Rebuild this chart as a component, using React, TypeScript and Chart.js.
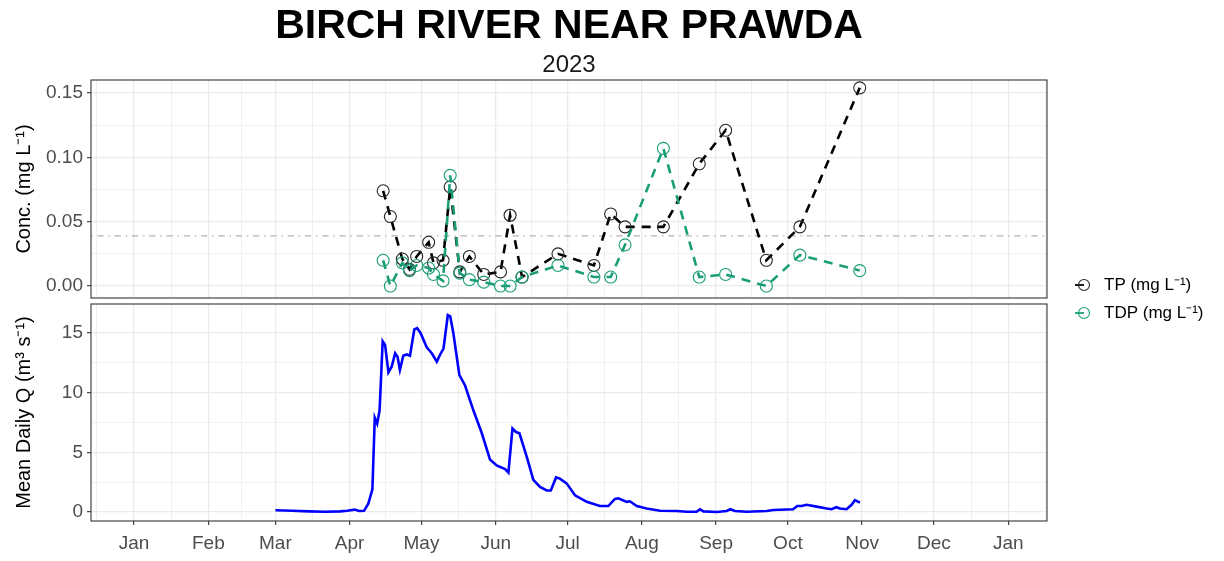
import React, { useEffect, useRef } from 'react';
import { Chart, registerables } from 'chart.js';

Chart.register(...registerables);

const FONT = "'Liberation Sans', Arial, Helvetica, sans-serif";

// x axis: days since 1 Jan 2023
const monthDays = [0, 31, 59, 90, 120, 151, 181, 212, 243, 273, 304, 334, 365];
const monthLabels = ['Jan', 'Feb', 'Mar', 'Apr', 'May', 'Jun', 'Jul', 'Aug', 'Sep', 'Oct', 'Nov', 'Dec', 'Jan'];
const xMin = -18;
const xMax = 381.2;

// water quality samples
const sampleDays = [104, 107, 112, 115, 118, 123, 125, 129, 132, 136, 140, 146, 153, 157, 162, 177, 192, 199, 205, 221, 236, 247, 264, 278, 303];
const tpValues = [0.074, 0.054, 0.021, 0.013, 0.023, 0.034, 0.018, 0.020, 0.077, 0.011, 0.023, 0.009, 0.011, 0.055, 0.007, 0.025, 0.016, 0.056, 0.046, 0.046, 0.095, 0.121, 0.020, 0.046, 0.154];
const tdpValues = [0.020, 0.000, 0.018, 0.012, 0.016, 0.014, 0.009, 0.004, 0.086, 0.010, 0.005, 0.003, 0.000, 0.000, 0.007, 0.016, 0.007, 0.007, 0.032, 0.107, 0.007, 0.009, 0.000, 0.024, 0.012];
const guideline = 0.039;

// mean daily discharge
const qDays = [59, 66, 73, 80, 86, 89, 92, 94, 96, 97.8, 99.5, 100.5, 101.5, 102.5, 103.8, 104.8, 106.2, 107.6, 109, 110, 111, 112.4, 113.8, 115.2, 117, 118.2, 119.6, 122.2, 124.3, 126.4, 127.8, 129.2, 131, 132, 133.3, 135.8, 138.2, 141.7, 145.2, 148.6, 151.4, 154.9, 156.3, 158, 159.5, 160.9, 164, 166.7, 169.5, 172.3, 174, 176.2, 177.8, 180.6, 184.1, 189, 194.5, 198, 200.8, 202.2, 205.7, 207, 209.9, 214, 219.6, 226.6, 230.7, 234.9, 236.3, 237.7, 243.3, 247.4, 249, 250.9, 255.8, 264.1, 266.9, 275.2, 276.9, 278.7, 280.8, 285, 289.2, 291.2, 293.3, 294.7, 297.5, 299.6, 301, 303.1];
const qValues = [0.15, 0.1, 0.05, 0.02, 0.05, 0.1, 0.2, 0.08, 0.1, 0.7, 1.9, 7.9, 7.4, 8.5, 14.3, 14.0, 11.7, 12.2, 13.3, 13.0, 11.9, 13.1, 13.2, 13.1, 15.3, 15.4, 15.0, 13.8, 13.3, 12.6, 13.2, 13.7, 16.5, 16.4, 15.0, 11.5, 10.6, 8.5, 6.6, 4.4, 3.9, 3.6, 3.3, 7.0, 6.7, 6.6, 4.6, 2.7, 2.1, 1.8, 1.8, 2.9, 2.8, 2.4, 1.4, 0.85, 0.5, 0.5, 1.1, 1.15, 0.85, 0.9, 0.5, 0.3, 0.1, 0.08, 0.02, 0.02, 0.23, 0.05, 0.0, 0.08, 0.23, 0.08, 0.02, 0.08, 0.17, 0.23, 0.5, 0.5, 0.6, 0.45, 0.3, 0.23, 0.4, 0.3, 0.23, 0.6, 1.0, 0.78];

const concTicks = [0, 0.05, 0.1, 0.15];
const concMin = -0.0093;
const concMax = 0.1601;
const qTicks = [0, 5, 10, 15];
const qMin = -0.754;
const qMax = 17.43;

type T = { value: number; major: boolean };

function withMinor(majors: number[], lo: number, hi: number): T[] {
  const step = majors[1] - majors[0];
  const ext = [majors[0] - step, ...majors, majors[majors.length - 1] + step];
  const out: T[] = majors.filter(v => v >= lo && v <= hi).map(v => ({ value: v, major: true }));
  for (let i = 0; i < ext.length - 1; i++) {
    const m = (ext[i] + ext[i + 1]) / 2;
    if (m >= lo && m <= hi) out.push({ value: m, major: false });
  }
  return out.sort((a, b) => a.value - b.value);
}

const isMajor = (c: any) => !!(c && c.tick && c.tick.major);

const gridOpts = (drawTicks: boolean) => ({
  drawTicks,
  tickLength: 4,
  color: '#ebebeb',
  lineWidth: (c: any) => (isMajor(c) ? 1.3 : 0.7),
  tickColor: (c: any) => (isMajor(c) ? '#333333' : 'rgba(0,0,0,0)'),
  tickWidth: 1.1,
});

const panelBorder = {
  id: 'panelBorder',
  afterDatasetsDraw(chart: any) {
    const { ctx, chartArea: a } = chart;
    ctx.save();
    ctx.strokeStyle = '#333333';
    ctx.lineWidth = 1.1;
    ctx.strokeRect(a.left, a.top, a.right - a.left, a.bottom - a.top);
    ctx.restore();
  },
};

const sideLegend = {
  id: 'sideLegend',
  afterDraw(chart: any) {
    const { ctx, chartArea: a } = chart;
    const items = chart.data.datasets.filter((d: any) => d.inLegend);
    ctx.save();
    items.forEach((d: any, i: number) => {
      const cy = a.bottom - 13 + i * 28;
      const cx = a.right + 37;
      ctx.strokeStyle = d.borderColor;
      ctx.lineWidth = 1.8;
      ctx.beginPath();
      ctx.moveTo(cx - 9, cy);
      ctx.lineTo(cx, cy);
      ctx.stroke();
      ctx.strokeStyle = d.pointBorderColor;
      ctx.lineWidth = 1.1;
      ctx.beginPath();
      ctx.arc(cx, cy, 5.5, 0, Math.PI * 2);
      ctx.stroke();
      ctx.fillStyle = '#000000';
      ctx.font = `17px ${FONT}`;
      ctx.textBaseline = 'middle';
      ctx.textAlign = 'left';
      ctx.fillText(d.label, cx + 20, cy);
    });
    ctx.restore();
  },
};

export default function App() {
  const topRef = useRef<HTMLCanvasElement>(null);
  const botRef = useRef<HTMLCanvasElement>(null);

  useEffect(() => {
    Chart.defaults.font.family = FONT;
    const xTicks = withMinor(monthDays, xMin, xMax);
    const monthLabel = (v: number) => {
      const i = monthDays.indexOf(v);
      return i >= 0 ? monthLabels[i] : '';
    };

    const top = new Chart(topRef.current!, {
      type: 'line',
      data: {
        datasets: [
          {
            label: 'TP (mg L⁻¹)',
            inLegend: true,
            data: sampleDays.map((d, i) => ({ x: d, y: tpValues[i] })),
            borderColor: '#000000',
            borderWidth: 2.6,
            borderDash: [9, 7],
            pointRadius: 6,
            pointBorderWidth: 1.1,
            pointBorderColor: '#262626',
            pointBackgroundColor: 'rgba(0,0,0,0)',
            tension: 0,
            order: 2,
          } as any,
          {
            label: 'TDP (mg L⁻¹)',
            inLegend: true,
            data: sampleDays.map((d, i) => ({ x: d, y: tdpValues[i] })),
            borderColor: '#1b9e77',
            borderWidth: 2.6,
            borderDash: [9, 7],
            pointRadius: 6,
            pointBorderWidth: 1.1,
            pointBorderColor: '#1b9e77',
            pointBackgroundColor: 'rgba(0,0,0,0)',
            tension: 0,
            order: 1,
          } as any,
          {
            label: 'guideline',
            data: [{ x: xMin, y: guideline }, { x: xMax, y: guideline }],
            borderColor: '#b3b3b3',
            borderWidth: 1.4,
            borderDash: [1.6, 4.7, 6.3, 4.7],
            pointRadius: 0,
            order: 3,
          },
        ],
      },
      options: {
        animation: false,
        responsive: false,
        maintainAspectRatio: false,
        devicePixelRatio: 1,
        layout: { padding: { left: 0, right: 177, top: 0, bottom: 263 } },
        plugins: {
          legend: { display: false },
          tooltip: { enabled: false },
          title: {
            display: true,
            text: 'BIRCH RIVER NEAR PRAWDA',
            fullSize: false,
            color: '#000000',
            font: { size: 41, weight: 'bold', family: FONT },
            padding: { top: 2, bottom: 0 },
          },
          subtitle: {
            display: true,
            text: '2023',
            fullSize: false,
            color: '#1a1a1a',
            font: { size: 24, family: FONT },
            padding: { top: 0, bottom: 0 },
          },
        },
        scales: {
          x: {
            type: 'linear',
            min: xMin,
            max: xMax,
            afterBuildTicks: (s: any) => { s.ticks = xTicks.map(t => ({ ...t })); },
            afterFit: (s: any) => { s.height = 0; },
            ticks: { display: false, autoSkip: false },
            grid: gridOpts(false) as any,
            border: { display: false },
          },
          y: {
            type: 'linear',
            min: concMin,
            max: concMax,
            afterBuildTicks: (s: any) => { s.ticks = withMinor(concTicks, concMin, concMax); },
            afterFit: (s: any) => { s.width = 91; },
            ticks: {
              autoSkip: false,
              color: '#4d4d4d',
              font: { size: 19 },
              padding: 4,
              callback: (v: any, i: number, ts: any[]) => (ts[i] && ts[i].major ? Number(v).toFixed(2) : ''),
            },
            title: {
              display: true,
              text: 'Conc. (mg L⁻¹)',
              color: '#000000',
              font: { size: 20 },
              padding: { top: 12, bottom: 0 },
            },
            grid: gridOpts(true) as any,
            border: { display: false },
          },
        },
      },
      plugins: [panelBorder, sideLegend],
    } as any);

    const bot = new Chart(botRef.current!, {
      type: 'line',
      data: {
        datasets: [
          {
            label: 'Mean Daily Q',
            data: qDays.map((d, i) => ({ x: d, y: qValues[i] })),
            borderColor: '#0000ff',
            borderWidth: 2.6,
            pointRadius: 0,
            tension: 0,
          },
        ],
      },
      options: {
        animation: false,
        responsive: false,
        maintainAspectRatio: false,
        devicePixelRatio: 1,
        layout: { padding: { left: 0, right: 177, top: 304, bottom: 0 } },
        plugins: { legend: { display: false }, tooltip: { enabled: false } },
        scales: {
          x: {
            type: 'linear',
            min: xMin,
            max: xMax,
            afterBuildTicks: (s: any) => { s.ticks = xTicks.map(t => ({ ...t })); },
            afterFit: (s: any) => { s.height = 40; },
            ticks: {
              autoSkip: false,
              maxRotation: 0,
              minRotation: 0,
              color: '#4d4d4d',
              font: { size: 19 },
              padding: 7,
              callback: (v: any) => monthLabel(Number(v)),
            },
            grid: gridOpts(true) as any,
            border: { display: false },
          },
          y: {
            type: 'linear',
            min: qMin,
            max: qMax,
            afterBuildTicks: (s: any) => { s.ticks = withMinor(qTicks, qMin, qMax); },
            afterFit: (s: any) => { s.width = 91; },
            ticks: {
              autoSkip: false,
              color: '#4d4d4d',
              font: { size: 19 },
              padding: 4,
              callback: (v: any, i: number, ts: any[]) => (ts[i] && ts[i].major ? String(Math.round(Number(v))) : ''),
            },
            title: {
              display: true,
              text: 'Mean Daily Q (m³ s⁻¹)',
              color: '#000000',
              font: { size: 20 },
              padding: { top: 12, bottom: 0 },
            },
            grid: gridOpts(true) as any,
            border: { display: false },
          },
        },
      },
      plugins: [panelBorder],
    } as any);

    return () => {
      top.destroy();
      bot.destroy();
    };
  }, []);

  return (
    <div style={{ position: 'fixed', left: 0, top: 0, width: 1224, height: 561, background: '#ffffff', overflow: 'hidden' }}>
      <canvas ref={topRef} width={1224} height={561} style={{ position: 'absolute', left: 0, top: 0 }} />
      <canvas ref={botRef} width={1224} height={561} style={{ position: 'absolute', left: 0, top: 0 }} />
    </div>
  );
}
